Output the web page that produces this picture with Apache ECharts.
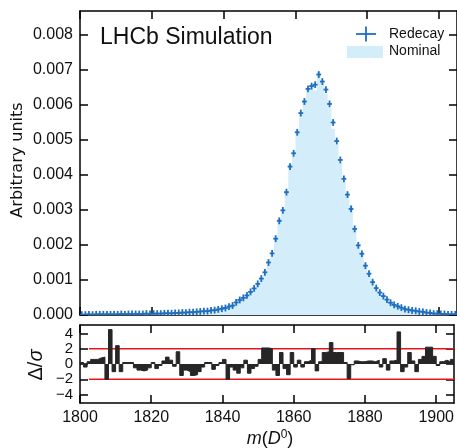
<!DOCTYPE html>
<html><head><meta charset="utf-8">
<script src="https://cdn.jsdelivr.net/npm/echarts@6/dist/echarts.min.js"></script>
<style>html,body{margin:0;padding:0;background:#fff}#c{width:457px;height:448px}</style>
</head><body><div id="c"></div>
<script>
// Binning: 1 MeV bins starting at 1800
const binStart = 1800;
const binWidth = 1;
// Redecay (points), per bin
const redecay = [
0.00001,0.00001,0.00002,0.00001,0.00002,0.00002,0.00002,0.00002,0.00002,0.00002,
0.00002,0.00003,0.00002,0.00003,0.00003,0.00003,0.00003,0.00003,0.00004,0.00003,
0.00004,0.00004,0.00004,0.00005,0.00005,0.00005,0.00006,0.00006,0.00007,0.00007,
0.00008,0.00008,0.00009,0.00010,0.00011,0.00011,0.00013,0.00014,0.00016,0.00018,
0.00020,0.00024,0.00027,0.00036,0.00043,0.00049,0.00056,0.00066,0.00076,0.00089,
0.00104,0.00122,0.00150,0.00176,0.00218,0.00269,0.00299,0.00351,0.00424,0.00462,
0.00522,0.00577,0.00610,0.00646,0.00654,0.00658,0.00687,0.00667,0.00644,0.00603,
0.00550,0.00497,0.00443,0.00389,0.00344,0.00303,0.00246,0.00199,0.00175,0.00141,
0.00118,0.00094,0.00077,0.00064,0.00054,0.00044,0.00035,0.00029,0.00025,0.00021,
0.00017,0.00015,0.00013,0.00012,0.00010,0.00009,0.00007,0.00006,0.00004,0.00004,
0.00003,0.00003,0.00002,0.00002,0.00002];
// Nominal (filled histogram), per bin
const nominal = [
0.00001,0.00001,0.00002,0.00001,0.00002,0.00002,0.00002,0.00003,0.00001,0.00002,
0.00002,0.00003,0.00002,0.00003,0.00003,0.00003,0.00003,0.00004,0.00004,0.00003,
0.00004,0.00004,0.00004,0.00005,0.00005,0.00005,0.00006,0.00006,0.00008,0.00007,
0.00008,0.00009,0.00009,0.00010,0.00011,0.00011,0.00013,0.00014,0.00016,0.00018,
0.00020,0.00025,0.00027,0.00037,0.00044,0.00049,0.00056,0.00067,0.00077,0.00089,
0.00103,0.00118,0.00145,0.00171,0.00221,0.00275,0.00293,0.00354,0.00431,0.00454,
0.00525,0.00573,0.00613,0.00644,0.00650,0.00642,0.00694,0.00665,0.00632,0.00591,
0.00532,0.00487,0.00434,0.00381,0.00343,0.00312,0.00247,0.00197,0.00174,0.00140,
0.00117,0.00093,0.00076,0.00064,0.00054,0.00043,0.00035,0.00029,0.00025,0.00020,
0.00017,0.00015,0.00012,0.00012,0.00010,0.00009,0.00007,0.00006,0.00004,0.00004,
0.00003,0.00003,0.00002,0.00002,0.00002];
// Pull Delta/sigma, per bin
const pull = [
0.2,-0.4,0.3,0.6,0.6,0.8,0.9,-2.0,4.5,-1.0,
2.4,-1.0,0.2,0.2,0.2,-0.5,-0.8,-0.9,-0.8,-0.5,
0.2,-0.6,-0.2,0.4,0.9,0.5,-0.3,1.6,-1.5,-0.8,
-1.0,-1.5,-1.4,-1.0,-0.4,0.2,0.2,-0.7,-0.2,0.2,
0.6,-2.0,-0.4,-0.8,-1.2,-0.5,0.5,-1.2,-0.6,-0.3,
0.6,2.1,2.1,2.0,-0.8,-1.5,1.5,-0.6,-1.4,1.5,
-0.4,0.5,-0.4,0.3,0.5,2.0,-0.9,0.3,1.5,1.6,
2.8,1.5,1.5,1.5,0.2,-1.9,-0.1,0.4,0.3,0.3,
0.4,0.4,0.3,0.5,-0.4,0.7,-0.8,0.4,0.5,4.2,
-1.0,-0.4,1.5,0.4,-1.0,0.6,1.0,2.2,2.2,1.0,
-0.2,0.3,0.5,0.3,0.6];
const xTicks = [1800,1820,1840,1860,1880,1900];
const yTicks = [0,0.001,0.002,0.003,0.004,0.005,0.006,0.007,0.008];
const pullTicks = [-4,-2,0,2,4];
const pullLines = [2,-2];
const pullLineStart = 1802.5;

const X_MIN = 1800, X_MAX = 1905;

function steps(arr){
  const out=[];
  arr.forEach((v,i)=>{const lo=binStart+i*binWidth; out.push([lo,v]); out.push([lo+binWidth,v]);});
  return out;
}
const points = redecay.map((v,i)=>[binStart+(i+0.5)*binWidth, v]);

const FONT='Liberation Sans';
const black='#111';
const lineSt={color:'#000',width:1.5};
function xAx(grid,pos,labels){
  return {type:'value',gridIndex:grid,position:pos,min:X_MIN,max:X_MAX,interval:20,
    axisLine:{show:true,onZero:false,lineStyle:lineSt},
    axisTick:{show:true,inside:true,length:8,lineStyle:{color:'#000',width:1.5},customValues:xTicks},
    axisLabel:{show:labels,customValues:xTicks,fontFamily:FONT,fontSize:16,color:black,margin:7,formatter:v=>String(v)},
    splitLine:{show:false}};
}
function yAx(grid,pos,min,max,ticks,labels,fmt,fs){
  return {type:'value',gridIndex:grid,position:pos,min:min,max:max,
    axisLine:{show:true,onZero:false,lineStyle:lineSt},
    axisTick:{show:true,inside:true,length:8,lineStyle:{color:'#000',width:1.5},customValues:ticks},
    axisLabel:{show:labels,customValues:ticks,fontFamily:FONT,fontSize:fs,color:black,margin:7,formatter:fmt,hideOverlap:false,lineHeight:fs},
    splitLine:{show:false}};
}
const fmtMain=v=>v.toFixed(3);
const fmtPull=v=>v<0?'\u2212'+(-v):String(v);

const chart=echarts.init(document.getElementById('c'),null,{renderer:'canvas'});
chart.setOption({
  animation:false,
  backgroundColor:'#fff',
  grid:[{left:80,top:11,width:378,height:304},{left:80,top:325,width:378,height:78}],
  xAxis:[xAx(0,'bottom',false),xAx(0,'top',false),xAx(1,'bottom',true),xAx(1,'top',false)],
  yAxis:[yAx(0,'left',0,0.0086857,yTicks,true,fmtMain,16),yAx(0,'right',0,0.0086857,yTicks,false,fmtMain,16),
         yAx(1,'left',-5.1,5.1,pullTicks,true,fmtPull,15),yAx(1,'right',-5.1,5.1,pullTicks,false,fmtPull,15)],
  series:[
    {type:'line',name:'Nominal',xAxisIndex:0,yAxisIndex:0,data:steps(nominal),symbol:'none',
     lineStyle:{width:0,opacity:0},areaStyle:{color:'#d3edfa',opacity:1},z:1},
    {type:'custom',name:'Redecay',xAxisIndex:0,yAxisIndex:0,data:points,clip:true,z:5,
     renderItem:function(params,api){
       const p=api.coord([api.value(0),api.value(1)]);
       const st={stroke:'#1f6fc0',lineWidth:1.8};
       return {type:'group',children:[
         {type:'line',shape:{x1:p[0]-2.4,y1:p[1],x2:p[0]+2.4,y2:p[1]},style:st},
         {type:'line',shape:{x1:p[0],y1:p[1]-3.4,x2:p[0],y2:p[1]+3.4},style:st}]};
     }},
    ...pullLines.map(l=>({type:'line',xAxisIndex:2,yAxisIndex:2,data:[[pullLineStart,l],[X_MAX,l]],symbol:'none',
      lineStyle:{color:'#e8151b',width:1.5},z:2})),
    {type:'line',name:'pull',xAxisIndex:2,yAxisIndex:2,data:steps(pull),symbol:'none',
     lineStyle:{color:'#262626',width:1},areaStyle:{color:'#262626',opacity:1},z:3}
  ],
  graphic:[
    {type:'text',left:100,top:26,style:{text:'LHCb Simulation',fontFamily:FONT,fontSize:23,fill:black}},
    {type:'line',shape:{x1:356,y1:34,x2:376,y2:34},style:{stroke:'#1f6fc0',lineWidth:1.8}},
    {type:'line',shape:{x1:366,y1:26.5,x2:366,y2:41.5},style:{stroke:'#1f6fc0',lineWidth:1.8}},
    {type:'rect',shape:{x:347,y:46,width:36,height:12},style:{fill:'#d3edfa'}},
    {type:'text',x:389,y:34,style:{text:'Redecay',fontFamily:FONT,fontSize:14,fill:black,verticalAlign:'middle'}},
    {type:'text',x:389,y:51,style:{text:'Nominal',fontFamily:FONT,fontSize:14,fill:black,verticalAlign:'middle'}},
    {type:'text',x:18,y:160,rotation:Math.PI/2,style:{text:'Arbitrary units',fontFamily:'DejaVu Sans',fontSize:16,fill:black,align:'center',verticalAlign:'middle'}},
    {type:'text',x:36,y:365,rotation:Math.PI/2,style:{text:'\u0394/{i|\u03c3}',fontFamily:FONT,fontSize:20,fill:black,align:'center',verticalAlign:'middle',
      rich:{i:{fontStyle:'italic',fontFamily:FONT,fontSize:20,fill:black}}}},
    {type:'text',x:270,y:439,style:{text:'{i|m}({i|D}{s|0})',fontFamily:FONT,fontSize:18,fill:black,align:'center',verticalAlign:'middle',
      rich:{i:{fontStyle:'italic',fontFamily:FONT,fontSize:18,fill:black},s:{fontFamily:FONT,fontSize:12,fill:black,verticalAlign:'top',padding:[0,0,8,0]}}}}
  ]
});
</script></body></html>
